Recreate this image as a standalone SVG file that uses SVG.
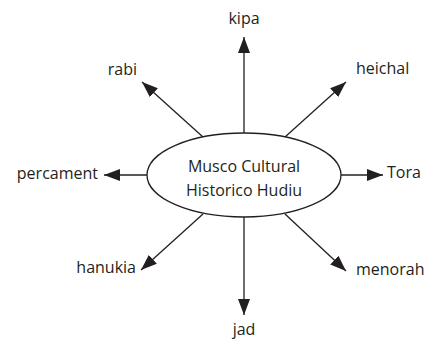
<svg xmlns="http://www.w3.org/2000/svg" width="428" height="339" viewBox="0 0 428 339">
<style>
text{font-family:"Open Sans","Liberation Sans",sans-serif;font-size:16px;fill:#231f20}
.c line{stroke:#231f20;stroke-width:1.3;marker-end:url(#ah)}
</style>
<defs>
<marker id="ah" markerUnits="userSpaceOnUse" markerWidth="16" markerHeight="12" refX="16" refY="6" orient="auto">
<path d="M0,0 L16,6 L0,12 z" fill="#231f20"/>
</marker>
</defs>
<rect width="428" height="339" fill="#fff"/>
<g class="c" id="connectors">
<line x1="244" y1="133" x2="244" y2="37"/>
<line x1="244" y1="217" x2="244" y2="315"/>
<line x1="147" y1="175" x2="104" y2="175"/>
<line x1="341" y1="175" x2="383" y2="175"/>
<line x1="203" y1="137" x2="142" y2="82"/>
<line x1="285" y1="137" x2="346" y2="82"/>
<line x1="203" y1="214" x2="141" y2="270"/>
<line x1="285" y1="214" x2="346" y2="271"/>
</g>
<g id="center">
<ellipse cx="244" cy="175" rx="97" ry="42" fill="#fff" stroke="#231f20" stroke-width="1.3"/>
<text x="244" y="172" text-anchor="middle">Musco Cultural</text>
<text x="244" y="196" text-anchor="middle">Historico Hudiu</text>
</g>
<g id="kipa"><text x="244" y="24" text-anchor="middle">kipa</text></g>
<g id="jad"><text x="244" y="335" text-anchor="middle">jad</text></g>
<g id="percament"><text x="98" y="179" text-anchor="end">percament</text></g>
<g id="tora"><text x="387" y="178">Tora</text></g>
<g id="rabi"><text x="137" y="75" text-anchor="end">rabi</text></g>
<g id="heichal"><text x="356" y="74">heichal</text></g>
<g id="hanukia"><text x="136" y="273" text-anchor="end">hanukia</text></g>
<g id="menorah"><text x="356" y="275">menorah</text></g>
</svg>
